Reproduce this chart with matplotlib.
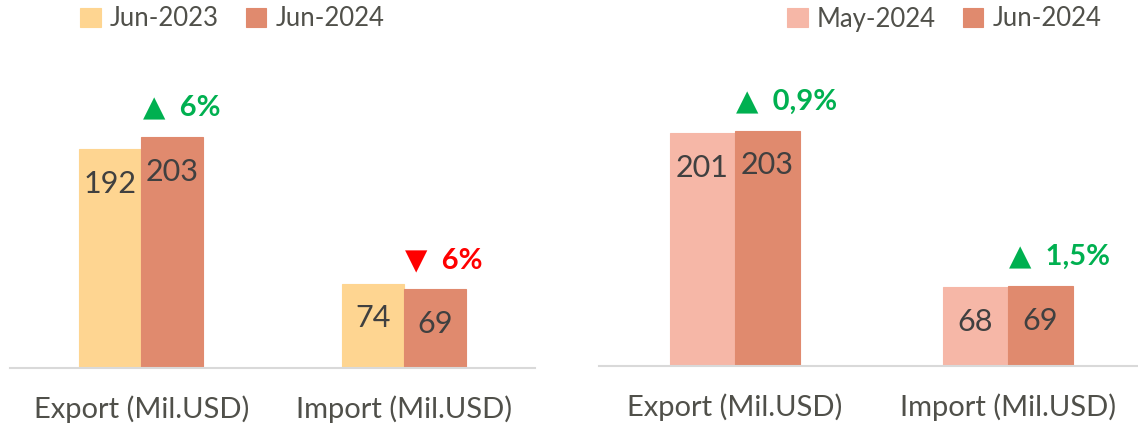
import matplotlib.pyplot as plt
import numpy as np

plt.rcParams['font.family'] = ['Lato', 'DejaVu Sans']

categories = ['Export (Mil.USD)', 'Import (Mil.USD)']

# left panel: year on year
left_series = ['Jun-2023', 'Jun-2024']
left_values = [[192, 74], [203, 69]]
left_change = ['▲  6%', '▼  6%']
left_up = [True, False]

# right panel: month on month
right_series = ['May-2024', 'Jun-2024']
right_values = [[201, 68], [203, 69]]
right_change = ['▲  0,9%', '▲  1,5%']
right_up = [True, True]

W, H = 1138, 429
fig = plt.figure(figsize=(W / 100, H / 100), dpi=100)

GREEN = '#00B050'
RED = '#FF0000'
TXT = '#404040'
LEG = '#50504A'


def panel(rect, series, values, colors, change, up, ylim_top, bw, leg_anchor):
    ax = fig.add_axes(rect)
    x = np.arange(len(categories))
    bars = []
    for i, (name, vals) in enumerate(zip(series, values)):
        offs = (i - 0.5) * bw
        b = ax.bar(x + offs, vals, width=bw, color=colors[i], label=name,
                   edgecolor=colors[i], linewidth=0.8, zorder=2)
        bars.append(b)
        for xi, v in zip(x, vals):
            ax.annotate(str(v), (xi + offs, v), xytext=(0, -25),
                        textcoords='offset points', ha='center', va='center',
                        fontsize=22, color=TXT)
    # change labels above the second bar
    for xi, v, t, u in zip(x, values[1], change, up):
        ax.annotate(t, (xi, v), xytext=(1, 21), textcoords='offset points',
                    ha='left', va='center', fontsize=21, fontweight='bold',
                    color=GREEN if u else RED)
    ax.set_xlim(-0.5, len(categories) - 0.5)
    ax.set_ylim(0, ylim_top)
    ax.set_xticks(x)
    ax.set_xticklabels(categories, fontsize=21, color=LEG)
    ax.tick_params(axis='x', length=0, pad=20)
    ax.set_yticks([])
    for s in ['top', 'right', 'left']:
        ax.spines[s].set_visible(False)
    ax.spines['bottom'].set_color('#D9D9D9')
    ax.spines['bottom'].set_linewidth(1.5)
    ax.patch.set_alpha(0)
    fig.legend(handles=bars, labels=series, ncol=2, frameon=False,
               loc='center left', bbox_to_anchor=leg_anchor,
               bbox_transform=fig.transFigure, fontsize=18.5,
               labelcolor=LEG, handlelength=0.8, handleheight=0.8,
               handletextpad=0.35, columnspacing=1.05)
    return ax


panel([10 / W, 61 / H, 525 / W, 308 / H], left_series, left_values,
      ['#FED591', '#E08A6E'], left_change, left_up, 270.6, 0.236,
      (57 / W, 1 - 19 / H))
panel([598.5 / W, 63 / H, 546 / W, 306 / H], right_series, right_values,
      ['#F6B7A7', '#E08A6E'], right_change, right_up, 264, 0.238,
      (764 / W, 1 - 19 / H))

fig.savefig('out.png', dpi=100)
